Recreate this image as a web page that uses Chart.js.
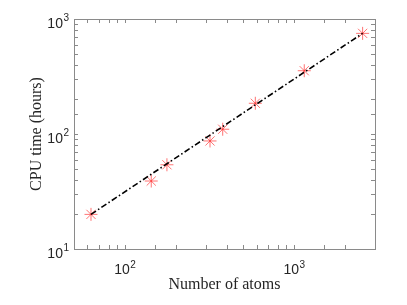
<!DOCTYPE html>
<html>
<head>
<meta charset="utf-8">
<script src="https://cdn.jsdelivr.net/npm/chart.js@4"></script>
<style>
  html,body{margin:0;padding:0;background:#fff;}
  canvas{display:block;}
</style>
</head>
<body>
<canvas id="cpu" width="407" height="305"></canvas>
<script>
// data
const atoms    = [63, 143, 177, 318, 378, 589, 1146, 2535];
const cpuHours = [20, 39, 54, 87, 110, 185, 355, 750];
// fitted power law, drawn between its two end points
const fitAtoms = [63, 2535];
const fitHours = [20, 750];
const xRange = [50, 3000];
const yRange = [10, 1000];

const AXIS = '#262626';
const BOX  = '#8a8a8a';
const SANS = '"Liberation Sans", Arial, sans-serif';
const SERIF = '"Liberation Serif", "DejaVu Serif", serif';

// exponent of a tick if it sits on a decade, else null
function decadeExp(v){
  const e = Math.log10(v);
  return Math.abs(e - Math.round(e)) < 1e-9 ? Math.round(e) : null;
}

// draws "10" with a raised exponent
function powLabel(ctx, exp, x, base, align){
  ctx.font = '14px ' + SANS;
  const wb = ctx.measureText('10').width;
  ctx.font = '10px ' + SANS;
  const we = ctx.measureText(String(exp)).width;
  const w = wb + 0.5 + we;
  let x0 = align==='center' ? x - w/2 : x - w;
  ctx.textAlign = 'left'; ctx.textBaseline = 'alphabetic';
  ctx.font = '14px ' + SANS;
  ctx.fillText('10', x0, base);
  ctx.font = '10px ' + SANS;
  ctx.fillText(String(exp), x0 + wb + 0.5, base - 6.5);
}

// MATLAB-like box with inward ticks on all four sides, plus the decade labels
const boxTicks = {
  id:'boxTicks',
  beforeDatasetsDraw(chart){
    const {ctx, chartArea:a, scales:{x, y}} = chart;
    const L = 4;
    ctx.save();
    ctx.strokeStyle = BOX; ctx.lineWidth = 1;
    ctx.beginPath();
    x.ticks.forEach(t=>{
      const px = Math.round(x.getPixelForValue(t.value)) + 0.5;
      if (px <= a.left + 1 || px >= a.right - 1) return;
      ctx.moveTo(px, a.bottom); ctx.lineTo(px, a.bottom - L);
      ctx.moveTo(px, a.top);    ctx.lineTo(px, a.top + L);
    });
    y.ticks.forEach(t=>{
      const py = Math.round(y.getPixelForValue(t.value)) + 0.5;
      if (py <= a.top + 1 || py >= a.bottom - 1) return;
      ctx.moveTo(a.left, py);  ctx.lineTo(a.left + L, py);
      ctx.moveTo(a.right, py); ctx.lineTo(a.right - L, py);
    });
    ctx.stroke();
    ctx.strokeRect(Math.round(a.left)+0.5, Math.round(a.top)+0.5,
                   Math.round(a.right-a.left), Math.round(a.bottom-a.top));

    ctx.fillStyle = AXIS;
    x.ticks.forEach(t=>{
      const e = decadeExp(t.value);
      if (e===null) return;
      powLabel(ctx, e, x.getPixelForValue(t.value), a.bottom + 25, 'center');
    });
    y.ticks.forEach(t=>{
      const e = decadeExp(t.value);
      if (e===null) return;
      powLabel(ctx, e, a.left - 5, y.getPixelForValue(t.value) + 8.5, 'right');
    });
    ctx.restore();
  }
};

const titleFont = {family:SERIF, size:16};

new Chart(document.getElementById('cpu'), {
  type:'scatter',
  data:{
    datasets:[
      {
        label:'fit',
        data: fitAtoms.map((v,i)=>({x:v, y:fitHours[i]})),
        showLine:true,
        borderColor:'#000',
        borderWidth:1.6,
        borderDash:[6,2.5,1.5,2.5],
        pointRadius:0,
        order:0
      },
      {
        label:'CPU time',
        data: atoms.map((v,i)=>({x:v, y:cpuHours[i]})),
        pointStyle:'star',
        pointRadius:6.5,
        pointBorderColor:'rgba(255,40,40,0.65)',
        pointBorderWidth:1,
        pointBackgroundColor:'rgba(255,40,40,0.65)',
        showLine:false,
        order:1
      }
    ]
  },
  options:{
    responsive:false,
    animation:false,
    events:[],
    layout:{padding:{left:0, right:32, top:19, bottom:0}},
    plugins:{legend:{display:false}, tooltip:{enabled:false}},
    scales:{
      x:{
        type:'logarithmic',
        min:xRange[0], max:xRange[1],
        grid:{display:false, drawTicks:false},
        border:{display:false},
        ticks:{display:false, autoSkip:false},
        title:{display:true, text:'Number of atoms', color:AXIS, font:titleFont,
               padding:{top:0, bottom:11}},
        afterFit:(s)=>{ s.height = 56; }
      },
      y:{
        type:'logarithmic',
        min:yRange[0], max:yRange[1],
        grid:{display:false, drawTicks:false},
        border:{display:false},
        ticks:{display:false, autoSkip:false},
        title:{display:true, text:'CPU time (hours)', color:AXIS, font:titleFont,
               padding:{top:27, bottom:0}},
        afterFit:(s)=>{ s.width = 74; }
      }
    }
  },
  plugins:[boxTicks]
});
</script>
</body>
</html>
